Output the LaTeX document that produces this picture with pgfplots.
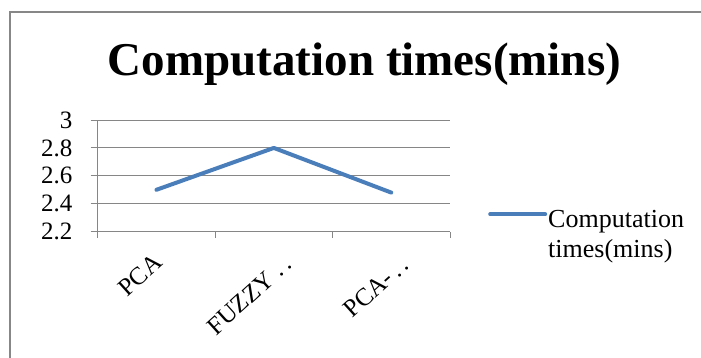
\documentclass[border=0pt]{standalone}
\usepackage{fontspec}
\setmainfont{Liberation Serif}
\usepackage{pgfplots}
\pgfplotsset{compat=1.18}
\definecolor{axgray}{HTML}{868686}
\definecolor{framegray}{HTML}{878787}
\definecolor{lineblue}{HTML}{4A7EBB}
\begin{document}
\begin{tikzpicture}[x=1pt,y=1pt]
\useasboundingbox (0,0) rectangle (701,358);
\draw[framegray, line width=2pt] (10,-5) -- (10,346) -- (706,346);
\node[font=\fontsize{47}{54}\selectfont\bfseries, anchor=base, inner sep=0pt] at (364.5,282) {Computation times(mins)};
\begin{axis}[
  at={(97.7pt,126.3pt)}, anchor=south west,
  scale only axis, width=352.3pt, height=111.7pt,
  xmin=-0.5, xmax=2.5, ymin=2.2, ymax=3,
  axis x line=bottom, axis y line=left,
  axis line style={axgray, line width=1pt, -},
  xtick={1,2}, xticklabels={FUZZY\ .\,., PCA-\,.\,.},
  extra x ticks={0}, extra x tick labels={PCA},
  extra x tick style={major x tick style={draw=none},
    every x tick label/.style={font=\fontsize{25}{30}\selectfont, xshift=2pt, yshift=-20pt, rotate=42, anchor=east, inner sep=0pt}},
  minor xtick={-0.5,0.5,1.5,2.5},
  ytick={2.2,2.4,2.6,2.8,3},
  tick align=outside,
  major tick length=7pt, minor tick length=6pt,
  major x tick style={draw=none},
  minor x tick style={axgray, line width=1pt},
  ytick style={axgray, line width=1pt},
  ymajorgrids, grid style={axgray, line width=1pt},
  /pgf/number format/assume math mode=true,
  yticklabel style={font=\fontsize{25}{30}\selectfont, anchor=east, inner sep=0pt, xshift=-18pt},
  xticklabel style={font=\fontsize{25}{30}\selectfont, xshift=14pt, yshift=-22pt, rotate=42, anchor=east, inner sep=0pt},
  legend style={draw=none, fill=none, at={(1.0994,0.22)}, anchor=north west,
    font=\fontsize{26}{30}\selectfont,
    nodes={inner sep=0pt, text height=18pt, text depth=6pt},
    row sep=6pt, column sep=1pt},
  legend cell align=left,
  legend image code/.code={\draw[#1] (0pt,7pt) -- (55pt,7pt);},
]
\addplot[lineblue, line width=4pt, line cap=round, line join=round] coordinates {(0,2.5) (1,2.8) (2,2.48)};
\addlegendentry{Computation}
\addlegendimage{empty legend}
\addlegendentry{times(mins)}
\end{axis}
\end{tikzpicture}
\end{document}
